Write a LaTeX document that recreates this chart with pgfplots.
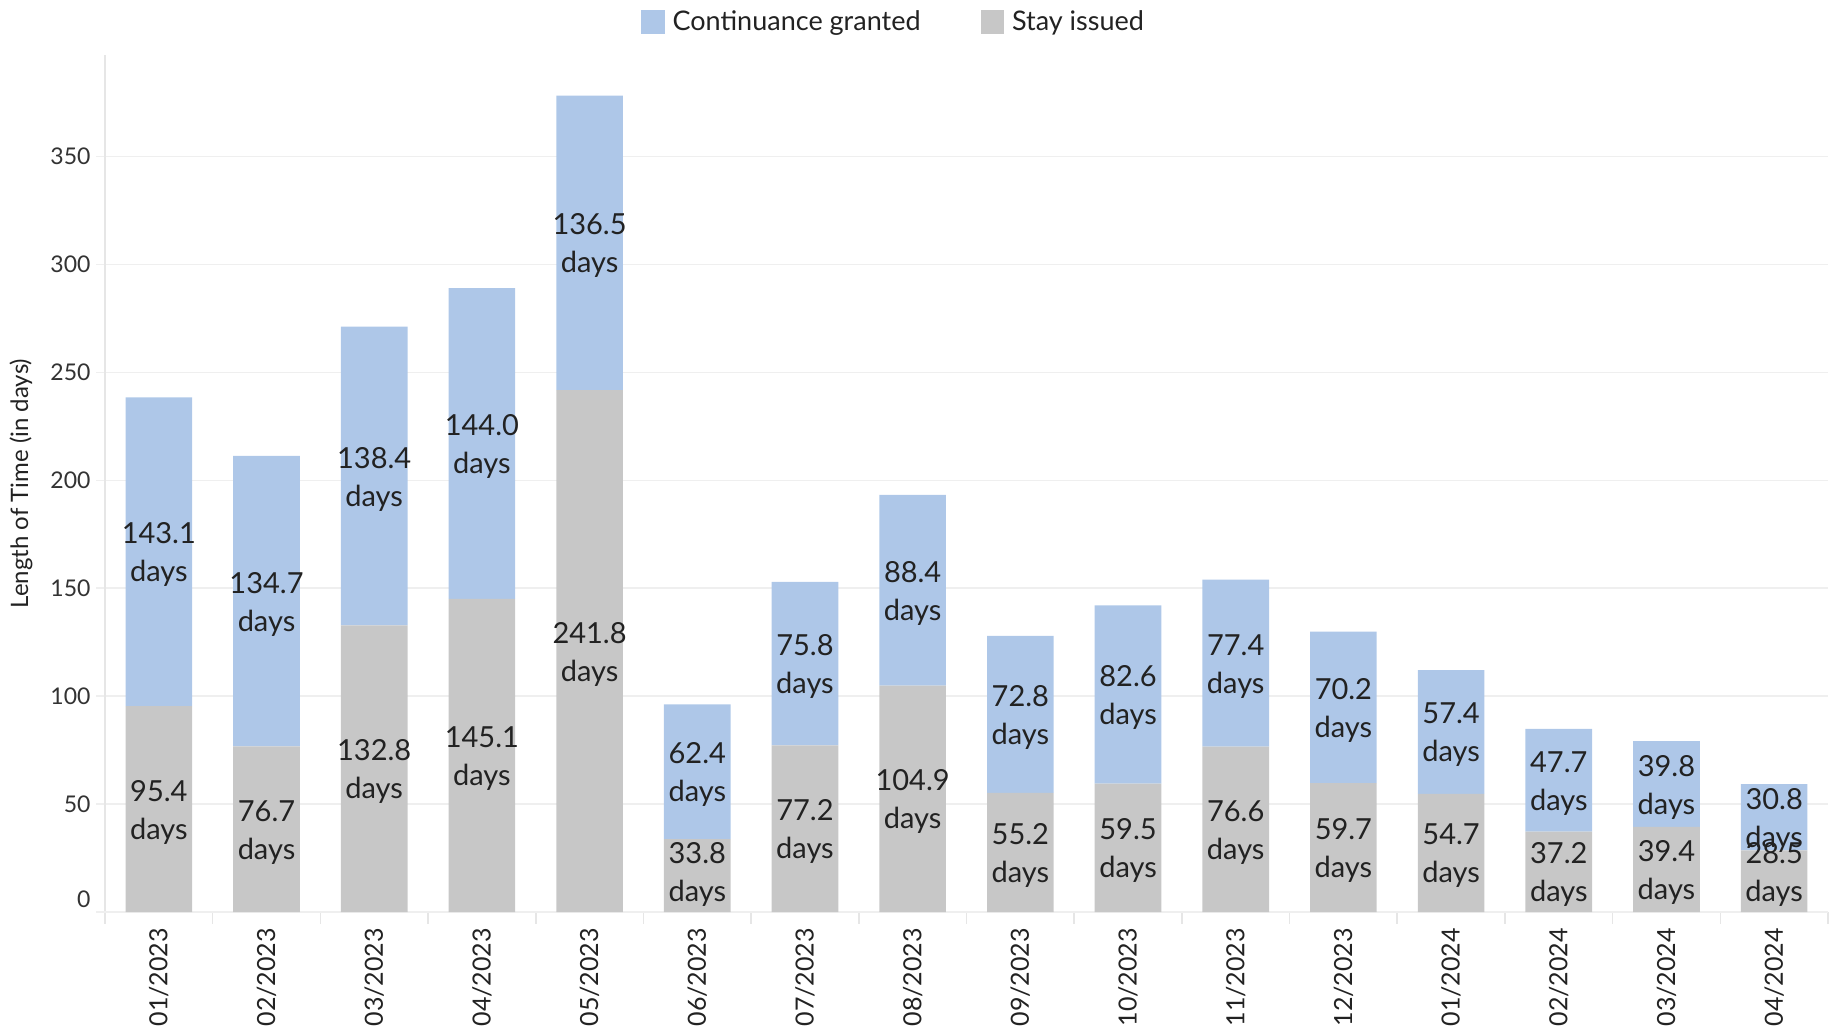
\documentclass[border=0pt]{standalone}
\usepackage{fontspec}
\setmainfont{Lato}
\usepackage{pgfplots}
\pgfplotsset{compat=1.18}
\usepackage{pgfplotstable}
\definecolor{contblue}{HTML}{AEC7E8}
\definecolor{staygray}{HTML}{C7C7C7}
\definecolor{gridc}{HTML}{EFEFEF}
\definecolor{axisc}{HTML}{E6E6E6}
\definecolor{txt}{HTML}{222222}
\definecolor{ticktxt}{HTML}{333333}

\pgfplotstableread{
x stay cont
0 95.4 143.1
1 76.7 134.7
2 132.8 138.4
3 145.1 144.0
4 241.8 136.5
5 33.8 62.4
6 77.2 75.8
7 104.9 88.4
8 55.2 72.8
9 59.5 82.6
10 76.6 77.4
11 59.7 70.2
12 54.7 57.4
13 37.2 47.7
14 39.4 39.8
15 28.5 30.8
}\data

\begin{document}
\begin{tikzpicture}
\begin{axis}[
  scale only axis, width=861.5pt, height=428.4pt,
  xmin=-0.5, xmax=15.5, ymin=0, ymax=397,
  ybar stacked, bar width=33.3pt,
  axis lines=left, axis line style={-, axisc, line width=0.8pt},
  ytick={50,100,...,350},
  extra y ticks={0},
  extra y tick style={yticklabel style={yshift=6.5pt}},
  ymajorgrids, grid style={gridc, line width=0.8pt},
  y tick style={gridc, line width=0.8pt},
  major tick length=4.5pt, tick align=outside,
  /pgf/number format/assume math mode=true,
  yticklabel style={font=\fontsize{11.5}{13}\selectfont, text=ticktxt, xshift=0.75pt},
  xtick={0,...,15},
  xticklabels={01/2023,02/2023,03/2023,04/2023,05/2023,06/2023,07/2023,08/2023,09/2023,10/2023,11/2023,12/2023,01/2024,02/2024,03/2024,04/2024},
  x tick label style={rotate=90, anchor=east, font=\fontsize{12.5}{14}\selectfont, text=txt},
  major x tick style={draw=none},
  minor xtick={-0.5,0.5,...,15.5},
  minor x tick style={axisc, line width=0.8pt},
  minor tick length=6pt,
  ylabel={Length of Time (in days)},
  every axis y label/.style={at={(axis description cs:-0.0488,0.5)}, rotate=90, anchor=center, font=\fontsize{12}{14}\selectfont, text=txt},
  point meta=explicit symbolic,
  nodes near coords={\pgfplotspointmeta\\days},
  nodes near coords align={center},
  every node near coord/.append style={align=center, anchor=center, inner sep=0pt,
     font=\fontsize{14.5}{19}\selectfont, text=txt},
  reverse legend,
  legend columns=-1,
  legend style={at={(0.311,1.057)}, anchor=north west, draw=none, fill=none,
     inner sep=0pt, font=\fontsize{13.5}{15}\selectfont, text=txt,
     /tikz/every odd column/.append style={column sep=2pt},
     /tikz/every even column/.append style={column sep=28pt}},
  every axis plot post/.append style={legend image code/.code={\fill[##1] (0pt,-5.85pt) rectangle (11.7pt,5.85pt);}},
]
\addplot[fill=staygray, draw=none,
  every node near coord/.append style={yshift={-1.5+max(0,18.8-0.5*\pgfplotspointmeta)*1.07909}}]
  table[x=x, y=stay, meta=stay] {\data};
\addplot[fill=contblue, draw=none,
  every node near coord/.append style={yshift=-1.5pt}]
  table[x=x, y=cont, meta=cont] {\data};
\legend{Stay issued, Continuance granted}
\end{axis}
\pgfresetboundingbox
\path ([xshift=-52.5pt,yshift=-58pt]current axis.south west) rectangle ++(915.5pt,514pt);
\end{tikzpicture}
\end{document}
